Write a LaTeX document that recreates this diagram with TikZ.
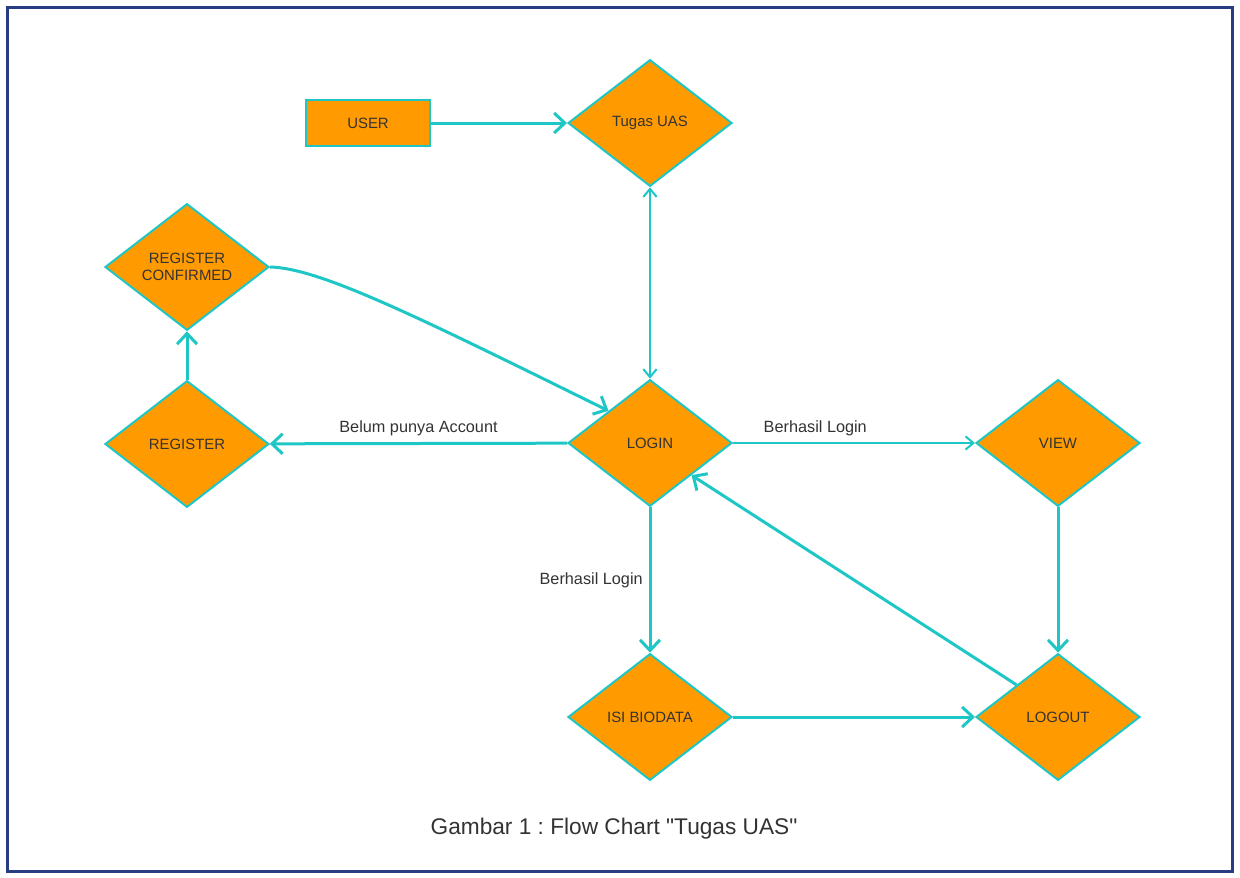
\documentclass[tikz,border=0pt]{standalone}
\usepackage{fontspec}
\setmainfont{Liberation Sans}
\newfontfamily\plainsans{Liberation Sans}
\usetikzlibrary{arrows.meta}
\usetikzlibrary{shapes.geometric}
\definecolor{boxorange}{HTML}{FF9A00}
\definecolor{linecyan}{HTML}{1FC6C6}
\definecolor{frameblue}{HTML}{283C82}

\begin{document}
\begin{tikzpicture}[x=0.75pt,y=0.75pt,%
  every node/.style={font=\fontsize{11.2}{13}\selectfont,text=black!80},
  decision/.style={diamond,draw=linecyan,fill=boxorange,line width=1.5pt,
    aspect=1.3,inner sep=0pt,minimum width=123pt,minimum height=95pt,align=center},
  startbox/.style={rectangle,draw=linecyan,fill=boxorange,line width=1.5pt,
    minimum width=93pt,minimum height=34pt},
  edgelabel/.style={font=\fontsize{12.2}{14}\selectfont,text=black!80},
  thickflow/.style={draw=linecyan,line width=2.25pt,-{Straight Barb[length=8pt,width=15pt]}},
  thinflow/.style={draw=linecyan,line width=1.5pt,-{Straight Barb[length=6pt,width=10pt]}}]
  \useasboundingbox (0,0) rectangle (1240,-878);
  \draw[frameblue,line width=2.25pt] (7,-7) rectangle (1232,-871);
  % the vertices
  \node[startbox] (user) at (368,-123) {USER};
  \node[decision] (tugas) at (650,-123) {Tugas UAS};
  \node[decision] (confirmed) at (187,-267) {REGISTER\\CONFIRMED};
  \node[decision] (register) at (187,-444) {REGISTER};
  \node[decision] (login) at (650,-443) {LOGIN};
  \node[decision] (view) at (1058,-443) {VIEW};
  \node[decision] (biodata) at (650,-717) {ISI BIODATA};
  \node[decision] (logout) at (1058,-717) {LOGOUT};
  % the edges
  \draw[thickflow] (user) -- (tugas);
  \draw[thinflow,{Straight Barb[length=6pt,width=10pt]}-{Straight Barb[length=6pt,width=10pt]}] (tugas) -- (login);
  \draw[thickflow] (confirmed.east) .. controls (320,-268) and (420,-318) .. (login.north west);
  \draw[thickflow] (login) -- (register) node[midway,above=1pt,edgelabel] {Belum punya Account};
  \draw[thickflow] (register) -- (confirmed);
  \draw[thinflow] (login) -- (view) node[pos=0.34,above=1pt,edgelabel] {Berhasil Login};
  \draw[thickflow] (login) -- (biodata) node[midway,left=1pt,edgelabel] {Berhasil Login};
  \draw[thickflow] (biodata) -- (logout);
  \draw[thickflow] (view) -- (logout);
  \draw[thickflow] (logout.north west) -- (login.south east);
  % the caption
  \node[font=\plainsans\fontsize{17}{20}\selectfont] (caption) at (614,-829) {\frenchspacing Gambar 1 : Flow Chart "Tugas UAS"};
\end{tikzpicture}
\end{document}
